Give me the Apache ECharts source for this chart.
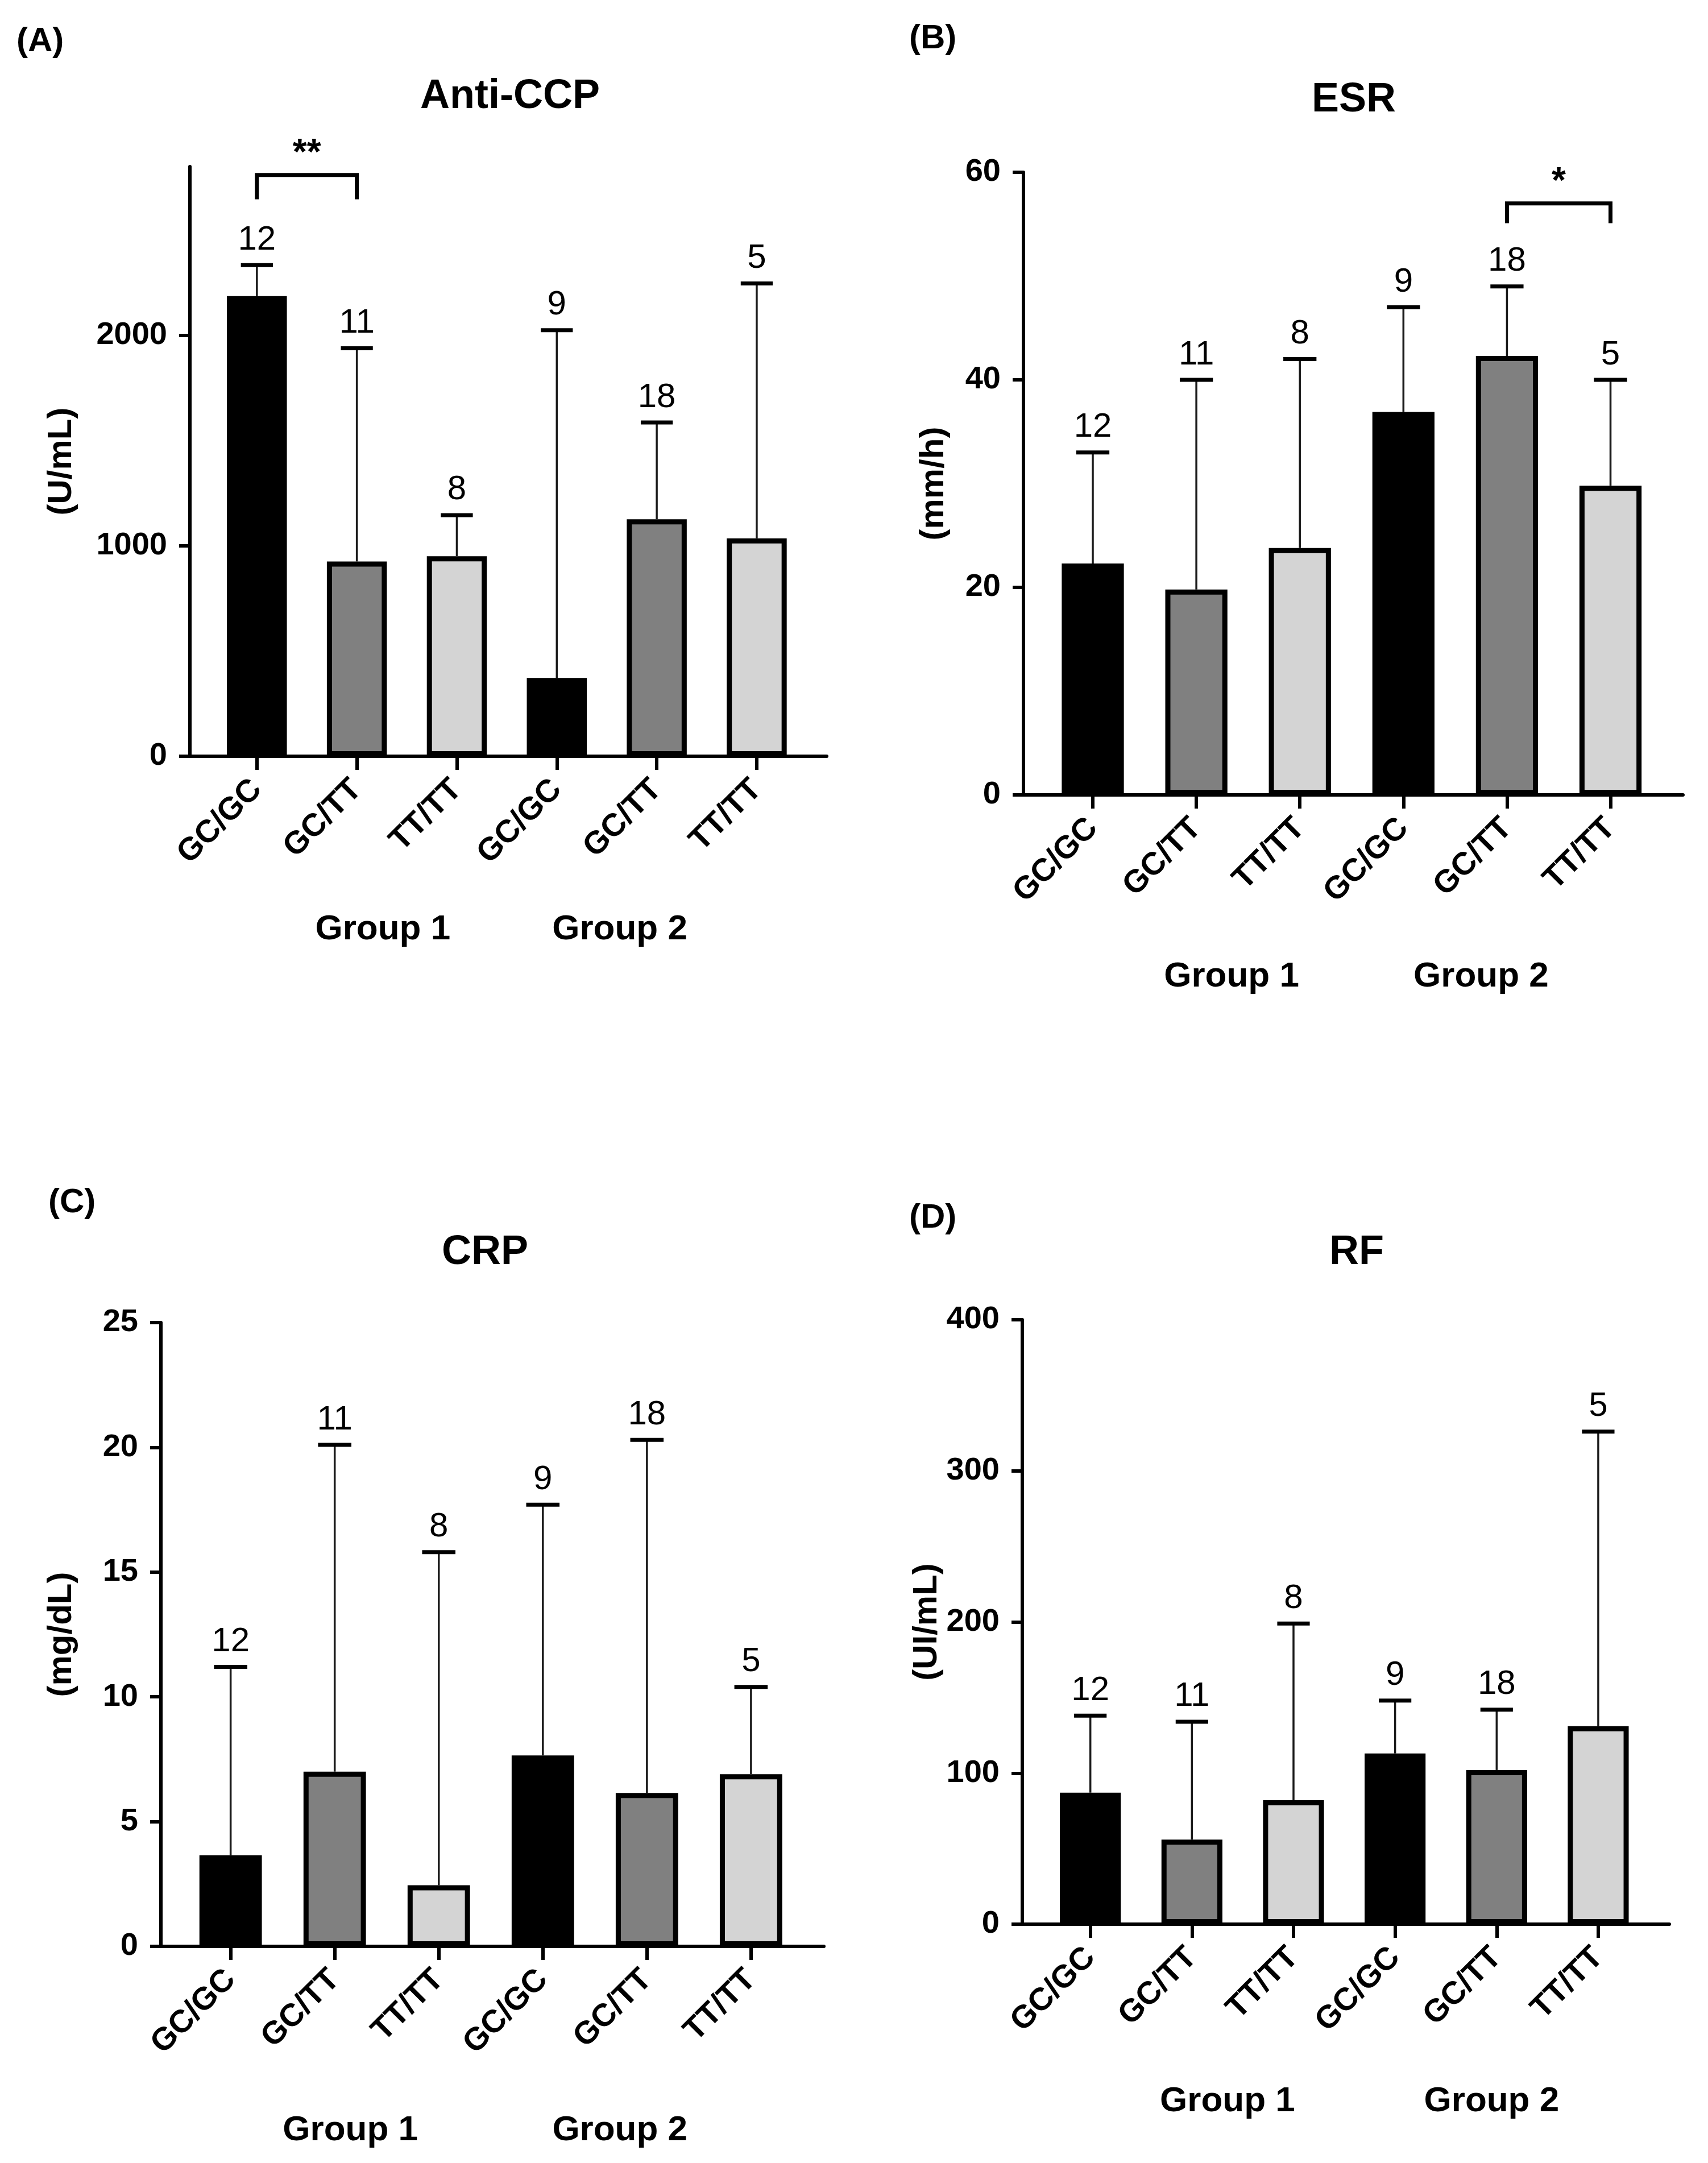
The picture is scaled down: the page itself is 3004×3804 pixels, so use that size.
<!DOCTYPE html>
<html>
<head>
<meta charset="utf-8">
<script src="https://cdn.jsdelivr.net/npm/echarts@6/dist/echarts.min.js"></script>
<style>
  html, body { margin: 0; padding: 0; background: #fff; }
  #main { width: 3004px; height: 3804px; }
</style>
</head>
<body>
<div id="main"></div>
<script>
// genotype categories, repeated for both groups
var genotypes = ['GC/GC', 'GC/TT', 'TT/TT', 'GC/GC', 'GC/TT', 'TT/TT'];
var groupNames = ['Group 1', 'Group 2'];
var counts = [12, 11, 8, 9, 18, 5];

// Anti-CCP (U/mL)
var antiCcpMean = [2185, 925, 950, 372, 1125, 1035];
var antiCcpUpper = [2332, 1937, 1145, 2023, 1585, 2245];
var antiCcpTicks = [0, 1000, 2000];
var antiCcpSig = [[0, 1, 2760, 2645]];
var antiCcpStars = ['**'];

// ESR (mm/h)
var esrMean = [22.3, 19.8, 23.8, 36.9, 42.3, 29.8];
var esrUpper = [33.0, 40.0, 42.0, 47.0, 49.0, 40.0];
var esrSig = [[4, 5, 57.0, 55.1]];
var esrStars = ['*'];

// CRP (mg/dL)
var crpMean = [3.65, 7.0, 2.45, 7.65, 6.15, 6.9];
var crpUpper = [11.2, 20.1, 15.8, 17.7, 20.3, 10.4];

// RF (UI/mL)
var rfMean = [87, 56, 82, 113, 102, 131];
var rfUpper = [138, 134, 199, 148, 142, 326];

var FONT = 'Liberation Sans, Arial, sans-serif';
var barColors = ['#000000', '#808080', '#d4d4d4', '#000000', '#808080', '#d4d4d4'];

// layout of each panel (pixels)
var panels = [
  { tag: '(A)', title: 'Anti-CCP', unit: '(U/mL)', mean: antiCcpMean, upper: antiCcpUpper,
    sig: antiCcpSig, stars: antiCcpStars,
    max: 2800, ticks: antiCcpTicks, nameGap: 196,
    grid: { left: 334, top: 293, width: 1120, height: 1037 }, tagPos: [29, 43],
    titleX: 897, titleTop: 134, groupX: [1.26, 3.63], groupDy: 305 },
  { tag: '(B)', title: 'ESR', unit: '(mm/h)', mean: esrMean, upper: esrUpper,
    sig: esrSig, stars: esrStars,
    max: 60, interval: 20, nameGap: 128,
    grid: { left: 1800, top: 303, width: 1160, height: 1095 }, tagPos: [1599, 38],
    titleX: 2381, titleTop: 140, groupX: [1.34, 3.75], groupDy: 320 },
  { tag: '(C)', title: 'CRP', unit: '(mg/dL)', mean: crpMean, upper: crpUpper, sig: [], stars: [],
    max: 25, interval: 5, nameGap: 145,
    grid: { left: 283, top: 2326, width: 1166, height: 1097 }, tagPos: [85, 2085],
    titleX: 853, titleTop: 2167, groupX: [1.15, 3.74], groupDy: 324 },
  { tag: '(D)', title: 'RF', unit: '(UI/mL)', mean: rfMean, upper: rfUpper, sig: [], stars: [],
    max: 400, interval: 100, nameGap: 124,
    grid: { left: 1798, top: 2321, width: 1138, height: 1063 }, tagPos: [1599, 2112],
    titleX: 2386, titleTop: 2167, groupX: [1.35, 3.95], groupDy: 312 }
];

var catTicks = [0, 1, 2, 3, 4, 5];

function renderErr(params, api) {
  var x = api.value(0), m = api.value(1), u = api.value(2), n = api.value(3);
  var p0 = api.coord([x, m]);
  var p1 = api.coord([x, u]);
  var hw = api.size([0.16, 0])[0];
  return {
    type: 'group',
    children: [
      { type: 'line', shape: { x1: p0[0], y1: p0[1], x2: p1[0], y2: p1[1] },
        style: { stroke: '#1a1a1a', lineWidth: 3.5 } },
      { type: 'line', shape: { x1: p1[0] - hw, y1: p1[1], x2: p1[0] + hw, y2: p1[1] },
        style: { stroke: '#000', lineWidth: 7 } },
      { type: 'text', x: p1[0], y: p1[1] - 14,
        style: { text: String(n), align: 'center', verticalAlign: 'bottom',
          fontSize: 60, fontFamily: FONT, fill: '#000' } }
    ]
  };
}

function makeSigRenderer(stars) {
  return function (params, api) {
    var x1 = api.value(0), x2 = api.value(1), yt = api.value(2), yb = api.value(3);
    var a = api.coord([x1, yb]), b = api.coord([x1, yt]), c = api.coord([x2, yt]), d = api.coord([x2, yb]);
    return {
      type: 'group',
      children: [
        { type: 'polyline', shape: { points: [a, b, c, d] },
          style: { stroke: '#000', lineWidth: 7, fill: null } },
        { type: 'text', x: (b[0] + c[0]) / 2, y: b[1] - 4,
          style: { text: stars[params.dataIndex], align: 'center', verticalAlign: 'bottom',
            fontSize: 64, fontWeight: 'bold', fontFamily: FONT, fill: '#000' } }
      ]
    };
  };
}

function makeGroupRenderer(dy) {
  return function (params, api) {
    var p = api.coord([api.value(0), 0]);
    return {
      type: 'text', x: p[0], y: p[1] + dy,
      style: { text: groupNames[params.dataIndex], align: 'center', verticalAlign: 'middle',
        fontSize: 62, fontWeight: 'bold', fontFamily: FONT, fill: '#000' }
    };
  };
}

var option = {
  backgroundColor: '#ffffff',
  animation: false,
  title: [],
  grid: [],
  xAxis: [],
  yAxis: [],
  series: []
};

panels.forEach(function (p, k) {
  option.title.push({
    text: p.tag, left: p.tagPos[0], top: p.tagPos[1], padding: 0,
    textStyle: { fontSize: 60, fontWeight: 'bold', fontFamily: FONT, color: '#000' }
  });
  option.title.push({
    text: p.title, left: p.titleX, top: p.titleTop, textAlign: 'center', padding: 0,
    textStyle: { fontSize: 72, fontWeight: 'bold', fontFamily: FONT, color: '#000' }
  });
  option.grid.push({ left: p.grid.left, top: p.grid.top, width: p.grid.width, height: p.grid.height, containLabel: false });

  option.xAxis.push({
    type: 'value', gridIndex: k, min: -0.67, max: 5.7,
    splitLine: { show: false },
    axisLine: { show: true, onZero: false, lineStyle: { color: '#000', width: 6 } },
    axisTick: { show: true, length: 24, customValues: catTicks, lineStyle: { color: '#000', width: 6 } },
    axisLabel: {
      show: true, customValues: catTicks, rotate: 45, margin: 50,
      formatter: function (v) { return genotypes[Math.round(v)]; },
      fontSize: 56, fontWeight: 'bold', fontFamily: FONT, color: '#000'
    }
  });

  var yAx = {
    type: 'value', gridIndex: k, min: 0, max: p.max,
    name: p.unit, nameLocation: 'middle', nameGap: p.nameGap, nameRotate: 90,
    nameTextStyle: { fontSize: 60, fontWeight: 'bold', fontFamily: FONT, color: '#000' },
    splitLine: { show: false },
    axisLine: { show: true, onZero: false, lineStyle: { color: '#000', width: 6 } },
    axisTick: { show: true, length: 19, lineStyle: { color: '#000', width: 6 } },
    axisLabel: { margin: 40, fontSize: 56, fontWeight: 'bold', fontFamily: FONT, color: '#000',
      formatter: function (v) { return String(v); } }
  };
  if (p.ticks) {
    yAx.axisTick.customValues = p.ticks;
    yAx.axisLabel.customValues = p.ticks;
  } else {
    yAx.interval = p.interval;
  }
  option.yAxis.push(yAx);

  option.series.push({
    type: 'bar', xAxisIndex: k, yAxisIndex: k, barWidth: '60%',
    data: p.mean.map(function (v, i) {
      return { value: [i, v], itemStyle: { color: barColors[i], borderColor: '#000', borderWidth: 9 } };
    })
  });
  option.series.push({
    type: 'custom', xAxisIndex: k, yAxisIndex: k, clip: false, z: 3,
    renderItem: renderErr,
    encode: { x: 0, y: [1, 2] },
    data: p.mean.map(function (v, i) { return [i, v, p.upper[i], counts[i]]; })
  });
  if (p.sig.length) {
    option.series.push({
      type: 'custom', xAxisIndex: k, yAxisIndex: k, clip: false, z: 3,
      renderItem: makeSigRenderer(p.stars),
      encode: { x: [0, 1], y: [2, 3] },
      data: p.sig
    });
  }
  option.series.push({
    type: 'custom', xAxisIndex: k, yAxisIndex: k, clip: false, silent: true,
    renderItem: makeGroupRenderer(p.groupDy),
    encode: { x: 0, y: 1 },
    data: p.groupX.map(function (g) { return [g, 0]; })
  });
});

var chart = echarts.init(document.getElementById('main'));
chart.setOption(option);
</script>
</body>
</html>
